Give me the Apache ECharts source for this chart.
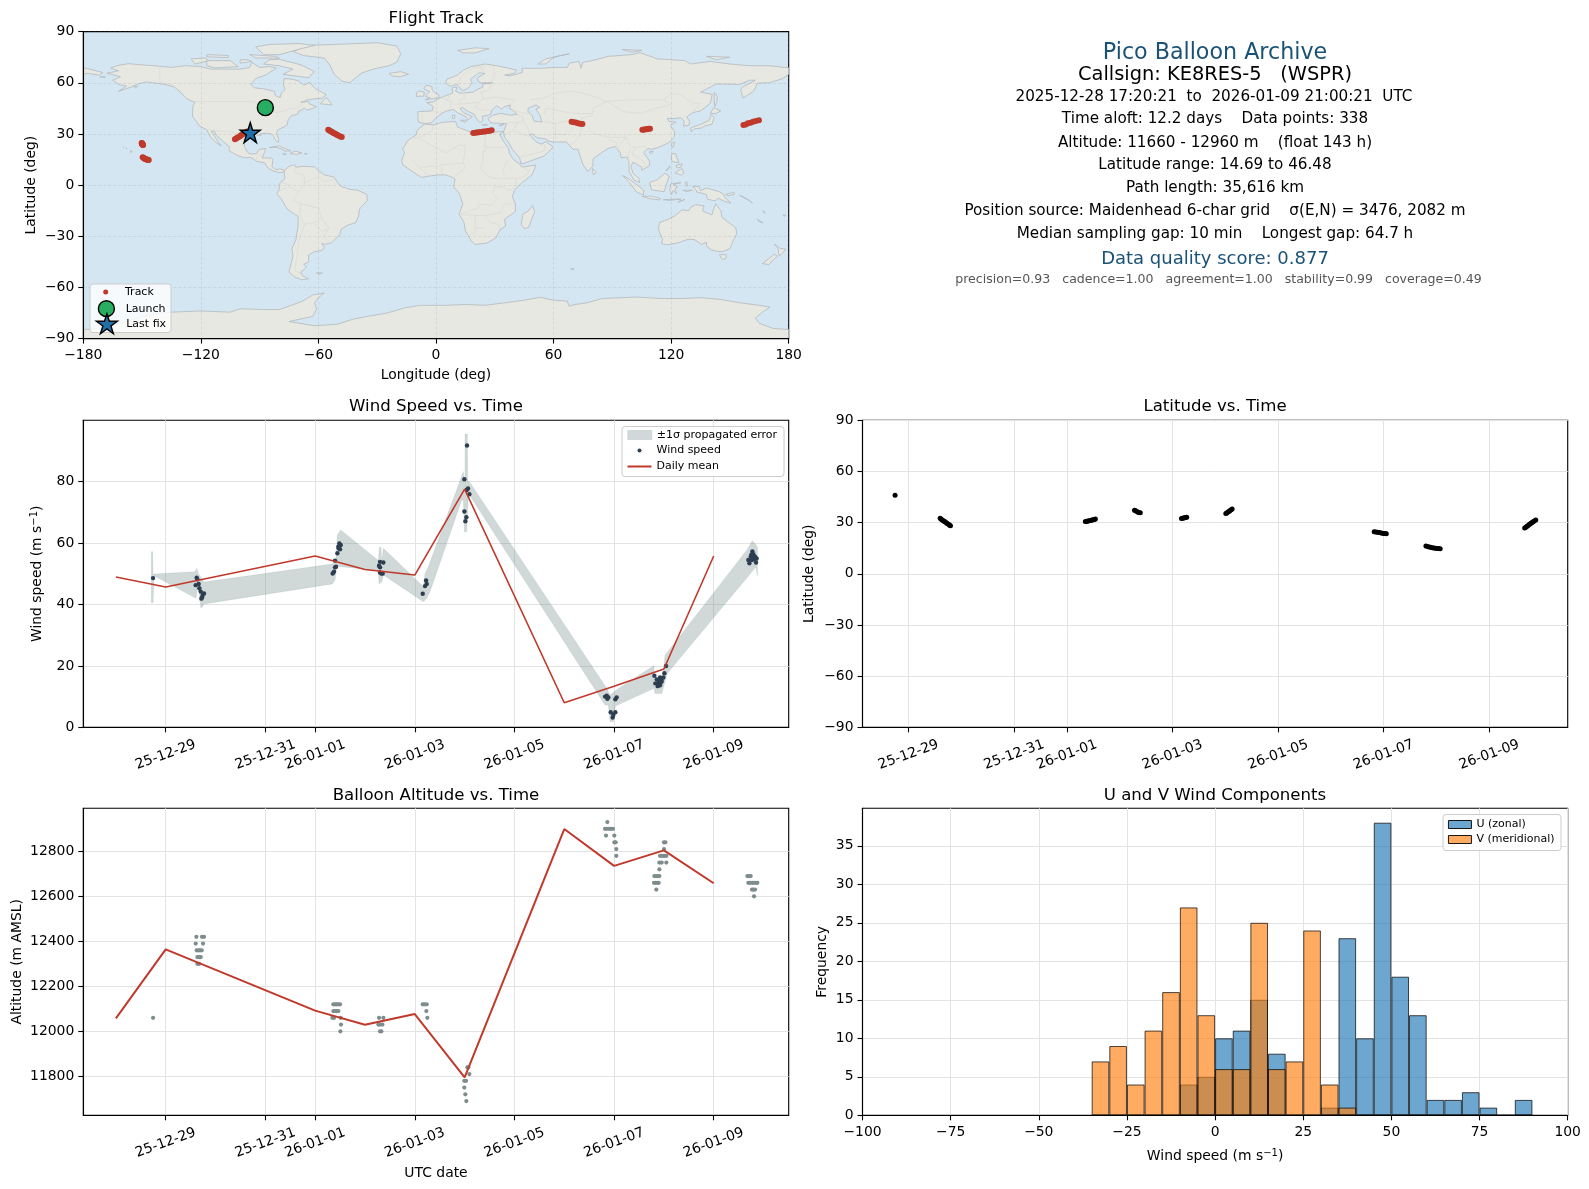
<!DOCTYPE html>
<html><head><meta charset="utf-8">
<style>html,body{margin:0;padding:0;background:#fff}#c{width:1589px;height:1189px}</style>
<script src="https://cdn.jsdelivr.net/npm/echarts@6/dist/echarts.min.js"></script>
</head><body><div id="c"></div>
<script>
// ---------- data ----------
const TIME_TICK_DAYS = [0, 2, 3, 5, 7, 9, 11]; // days since 2025-12-29 00:00 UTC
const TIME_TICK_LABELS = ['25-12-29', '25-12-31', '26-01-01', '26-01-03', '26-01-05', '26-01-07', '26-01-09'];

const TRACK_DAY = [-0.254,
  0.60,0.62,0.64,0.66,0.68,0.70,0.72,0.74,0.76,0.78,0.795,
  3.35,3.37,3.39,3.41,3.44,3.46,3.48,3.50,3.52,3.54,
  4.28,4.30,4.32,4.34,4.36,4.39,
  5.17,5.19,5.21,5.23,5.25,5.27,
  6.01,6.03,6.05,6.07,6.09,6.11,6.13,
  8.82,8.85,8.88,8.91,8.94,8.97,9.00,9.03,9.05,
  9.80,9.83,9.86,9.89,9.92,9.95,9.98,10.01,10.04,10.07,
  11.67,11.69,11.71,11.73,11.75,11.77,11.79,11.81,11.83,11.85,11.88];
const TRACK_LAT = [46.0,
  32.5,32.0,31.6,31.1,30.6,30.3,29.8,29.4,29.0,28.5,28.2,
  30.6,30.7,30.9,31.0,31.2,31.4,31.5,31.7,31.9,32.1,
  37.2,36.9,36.7,36.3,36.0,35.8,
  32.4,32.5,32.7,32.8,33.0,33.1,
  35.3,35.6,36.2,36.6,37.1,37.6,38.0,
  24.7,24.5,24.3,24.2,24.0,23.8,23.7,23.6,23.5,
  16.3,16.0,15.7,15.5,15.3,15.2,15.0,14.9,14.8,14.7,
  26.9,27.3,27.8,28.2,28.7,29.2,29.6,30.1,30.5,31.0,31.5];
const TRACK_LON = [-87.1,
  -55.0,-54.4,-53.7,-53.0,-52.4,-51.7,-51.0,-50.4,-49.6,-48.8,-48.1,
  19.0,20.0,21.1,22.0,23.1,24.2,25.2,26.3,27.4,28.4,
  69.2,70.3,71.4,72.5,73.6,74.7,
  105.3,106.0,106.8,107.6,108.4,109.2,
  156.9,158.1,159.2,160.5,161.8,163.2,164.8,
  -150.2,-150.1,-150.0,-149.9,-149.9,-149.8,-149.7,-149.6,-149.5,
  -149.7,-149.3,-149.0,-148.7,-148.3,-148.0,-147.6,-147.3,-147.0,-146.6,
  -102.6,-102.0,-101.4,-100.7,-100.1,-99.5,-98.9,-98.3,-97.7,-97.1,-96.4];
const LAUNCH_POS = [-87.1, 45.4];
const LAST_FIX_POS = [-94.8, 30.8];

const WIND_DAY = [-0.254,
  0.622,0.636,0.602,0.662,0.676,0.703,0.769,0.743,0.729,0.716,
  3.352,3.379,3.399,3.419,3.399,3.446,3.466,3.486,3.513,3.499,3.472,
  4.302,4.369,4.282,4.302,4.302,4.356,4.329,
  5.159,5.205,5.226,5.239,
  6.048,5.995,6.068,6.042,6.095,5.995,6.035,6.015,
  8.819,8.852,8.885,8.865,9.052,9.025,8.932,9.025,8.985,8.972,
  10.043,10.010,9.809,9.989,9.922,9.855,9.949,9.829,9.882,9.922,9.955,9.875,9.900,9.935,
  11.776,11.796,11.742,11.829,11.695,11.862,11.716,11.849,11.762,11.809,11.782,11.755];
const WIND_SPEED = [48.6,
  48.7,48.2,46.3,46.7,45.3,44.2,43.6,43.1,42.3,41.9,
  50.1,50.7,52.1,52.3,54.3,56.7,58.8,59.9,59.4,58.0,58.3,
  53.9,53.7,52.6,52.1,50.4,50.1,50.1,
  43.5,46.0,47.8,46.7,
  91.8,80.8,77.8,77.3,75.9,70.3,68.4,67.1,
  10.0,10.3,9.75,9.3,9.75,9.1,4.9,4.9,4.0,3.2,
  19.96,17.6,16.8,16.2,16.2,15.6,15.4,14.3,14.3,13.7,14.9,13.4,15.0,14.6,
  57.3,56.4,55.6,55.6,54.5,55.0,53.4,53.7,54.5,54.7,55.2,56.2];
const BAND_UPPER = [[-0.288,57.2],[-0.261,57.2],[-0.254,49.9],[0.589,50.7],[0.622,51.8],[0.656,50.1],[0.769,47.3],[3.345,53.2],[3.419,55.0],[3.446,62.6],[3.513,64.3],[4.269,54.3],[4.289,58.6],[4.322,58.6],[4.336,53.4],[4.369,58.3],[5.172,45.8],[5.205,50.1],[5.272,52.3],[5.975,83.3],[6.008,77.3],[6.008,95.5],[6.055,95.5],[6.062,80.0],[6.095,80.0],[8.852,12.7],[8.919,10.5],[9.039,12.1],[9.802,20.1],[9.802,13.2],[9.956,13.2],[10.023,23.5],[11.662,57.7],[11.776,60.8],[11.876,58.8]];
const BAND_LOWER = [[11.876,49.3],[11.849,52.3],[11.729,49.9],[10.069,17.6],[9.956,11.0],[9.822,11.0],[9.802,12.7],[9.026,6.9],[8.986,1.8],[8.919,1.8],[8.885,7.3],[8.818,7.3],[6.075,76.2],[6.042,63.7],[5.995,63.7],[5.975,74.0],[5.942,74.0],[5.306,44.2],[5.239,42.0],[5.172,40.9],[4.369,49.6],[4.336,47.4],[4.282,46.7],[4.269,51.0],[3.533,52.3],[3.432,52.5],[3.399,48.0],[3.345,46.7],[0.769,40.2],[0.729,39.0],[0.703,39.0],[0.676,43.6],[0.636,45.3],[0.609,42.0],[-0.234,49.4],[-0.254,40.6],[-0.288,40.6]];
const MEAN_DAY = [-1, 0, 3, 4, 5, 6, 8, 9, 10, 11];
const WIND_MEAN = [48.95, 45.7, 55.8, 51.4, 49.6, 77.6, 8.0, 13.4, 19.0, 55.8];
const ALT_MEAN = [12058, 12364, 12092, 12029, 12077, 11795, 12899, 12735, 12804, 12658];

const ALT_DAY = [-0.254,
  0.616,0.729,0.769, 0.602,0.749, 0.622,0.656,0.689,0.723, 0.636,0.676,0.703, 0.636,0.669,
  3.365,3.399,3.432,3.466,3.499, 3.365,3.399,3.432,3.466, 3.345,3.379,3.513, 3.519, 3.506,
  4.282,4.369, 4.269,4.302,4.349, 4.302,4.329,
  5.159,5.192,5.239, 5.232, 5.252,
  6.054,6.075, 6.095, 5.994,6.028, 5.994, 6.014, 6.034,
  8.865, 8.818,8.851,8.898,8.938,8.978, 8.838,9.005, 9.005,9.032, 9.045, 9.045,
  10.002,10.029, 10.002, 9.922,9.955,9.989,10.022,10.049, 9.909,9.955,10.049, 9.909, 9.808,9.842,9.875,9.909, 9.802,9.835,9.868,9.895, 9.848,
  11.675,11.708,11.742, 11.695,11.728,11.775,11.809,11.849,11.876, 11.768,11.795,11.829, 11.809];
const ALT_M = [12060,
  12420,12420,12420, 12390,12390, 12360,12360,12360,12360, 12330,12330,12330, 12300,12300,
  12120,12120,12120,12120,12120, 12090,12090,12090,12090, 12060,12060,12060, 12030, 12000,
  12060,12060, 12030,12030,12030, 12000,12000,
  12120,12120,12120, 12090, 12060,
  11840,11840, 11810, 11780,11780, 11750, 11720, 11690,
  12930, 12900,12900,12900,12900,12900, 12870,12870, 12840,12840, 12810, 12780,
  12840,12840, 12810, 12780,12780,12780,12780,12780, 12750,12750,12750, 12720, 12690,12690,12690,12690, 12660,12660,12660,12660, 12630,
  12690,12690,12690, 12660,12660,12660,12660,12660,12660, 12630,12630,12630, 12600];

const HIST_CENTERS = [-32.5,-27.5,-22.5,-17.5,-12.5,-7.5,-2.5,2.5,7.5,12.5,17.5,22.5,27.5,32.5,37.5,42.5,47.5,52.5,57.5,62.5,67.5,72.5,77.5,82.5,87.5];
const HIST_U = [0,0,0,0,0,4,5,10,11,15,8,0,0,1,23,10,38,18,13,2,2,3,1,0,2];
const HIST_V = [7,9,4,11,16,27,13,6,6,25,6,7,24,4,1,0,0,0,0,0,0,0,0,0,0];

const INFO_LINES = [
  ['Pico Balloon Archive', 56, 22.2, '#1a5276', 1215],
  ['Callsign: KE8RES-5   (WSPR)', 77, 19.4, '#000', 1215],
  ['2025-12-28 17:20:21  to  2026-01-09 21:00:21  UTC', 99, 15.2, '#000', 1214],
  ['Time aloft: 12.2 days    Data points: 338', 121, 15.2, '#000', 1215],
  ['Altitude: 11660 - 12960 m    (float 143 h)', 144.5, 15.2, '#000', 1215],
  ['Latitude range: 14.69 to 46.48', 167, 15.2, '#000', 1215],
  ['Path length: 35,616 km', 190, 15.2, '#000', 1215],
  ['Position source: Maidenhead 6-char grid    σ(E,N) = 3476, 2082 m', 213, 15.2, '#000', 1215],
  ['Median sampling gap: 10 min    Longest gap: 64.7 h', 236, 15.2, '#000', 1215],
  ['Data quality score: 0.877', 261.5, 18, '#1a5276', 1215],
  ['precision=0.93   cadence=1.00   agreement=1.00   stability=0.99   coverage=0.49', 281, 12.55, '#555555', 1218.5]
];

// Land outlines, [longitude, latitude]
const LAND_POLYGONS = [
 // North America
 [[-168,65.6],[-164,66.5],[-162,67],[-166,68.5],[-163,70],[-157,71.2],[-150,70.5],[-141,69.7],[-135,69],[-128,70],[-120,69.5],[-115,68],[-108,68],[-100,68],[-95,69],[-94,72],[-90,69],[-85,69.5],[-81.5,68.5],[-85,66],[-87,64.5],[-92,62.5],[-94.5,59],[-92.5,57],[-88,56.5],[-82.5,55],[-82,52.5],[-79.5,51.3],[-79,54],[-77,56],[-78,59],[-77.5,62.5],[-73,62],[-70,61],[-67.5,58.5],[-64.5,60.2],[-61.5,56.5],[-56,53],[-58,51],[-65,50.2],[-69,48.5],[-65,49],[-64.5,47.5],[-61,46],[-64,44.5],[-66,44],[-67,45],[-70,43.5],[-70.5,41.7],[-74,40.5],[-75.5,38],[-76,35],[-78.5,33.7],[-81,32],[-81.3,30],[-80.2,26.8],[-80.5,25.2],[-81.8,26],[-82.8,28.5],[-84,30],[-86,30.4],[-89.5,30.2],[-89.3,29],[-93,29.7],[-95,29],[-97.3,27.5],[-97.7,25],[-97.8,22.5],[-96,19],[-94.5,18.2],[-91.5,18.5],[-90.5,20.8],[-87,21.5],[-87.8,18.5],[-88.7,16],[-84,15.8],[-83.2,14.9],[-83.7,11],[-82,9],[-79.5,9.5],[-77.3,8.6],[-78,7.5],[-80,7.3],[-83,8.2],[-85.7,10],[-87.5,13],[-91.5,14],[-94.5,16.2],[-98,16],[-101.5,17.5],[-105.5,20],[-105.5,22.5],[-108.5,25.5],[-112,29],[-113,31.3],[-114.7,31.7],[-113,28.5],[-111,25],[-109.5,23],[-112,24.7],[-115,28],[-117,32.5],[-120.5,34.5],[-122.5,37.5],[-124.3,40.5],[-124,46.5],[-123,48.5],[-127,50.5],[-130,54],[-133.5,57.5],[-137.5,58.8],[-144,60],[-148,60.5],[-152,59.3],[-156,57.3],[-162,55],[-158,58],[-162,59],[-165,61.5],[-161,63.5],[-168,65.6]],
 // South America
 [[-77.3,8.6],[-75,11],[-72,12],[-71.5,10.5],[-68,11],[-62,10.7],[-60,8.5],[-57,6],[-52,4.7],[-50,1],[-48,-1],[-44,-2.5],[-40,-3],[-35.3,-5.5],[-35,-9],[-39,-14],[-39.5,-18],[-41,-22],[-45,-23.5],[-48.5,-26],[-49,-29],[-53.5,-34],[-57,-34.8],[-58.3,-34],[-57,-36.5],[-58,-38.2],[-62,-39],[-65,-41],[-65,-45],[-67.5,-46.5],[-66,-48],[-69,-51],[-68.3,-53],[-65.2,-55],[-68.5,-55.5],[-72,-54],[-75,-51],[-74,-46],[-73,-41.5],[-73.5,-37],[-71.5,-32],[-70.5,-25],[-70.3,-18.5],[-76,-14],[-79,-8],[-81.3,-5],[-80,-2.5],[-80,0.5],[-78.5,2.5],[-77,4],[-77.5,7],[-77.3,8.6]],
 // Greenland and the Arctic islands
 [[-73,78.5],[-68,80.5],[-62,82],[-45,82.8],[-30,83.5],[-20,81.5],[-18,77],[-20,72],[-24,70],[-32,68],[-38,65.7],[-42,62],[-44,60],[-48,61],[-52,65],[-54,70],[-57,74.5],[-68,76],[-73,78.5]],
 [[-80,73.7],[-72,71.5],[-68,70],[-62,66.5],[-65,63],[-72,64],[-78,65],[-73,68],[-80,70],[-88,71],[-85,73.5],[-80,73.7]],
 [[-117,73],[-105,73],[-101,69.5],[-113,68.7],[-117,70],[-117,73]],
 [[-92,81],[-85,82.5],[-70,83],[-62,82],[-72,79],[-80,76.5],[-88,76.5],[-92,81]],
 [[-125,74],[-118,74.5],[-116,73],[-123,71],[-125,74]],
 [[-95,76.5],[-82,75.5],[-80,74.5],[-92,74.5],[-95,76.5]],
 [[-117,76.5],[-106,76],[-106,74.8],[-117,75.2],[-117,76.5]],
 [[-100,73.5],[-96,73.5],[-94,72.5],[-100,71.5]],
 [[-59,47.7],[-56,51.5],[-53,47],[-59,47.7]],
 // Caribbean, Pacific
 [[-85,22],[-80,23],[-75,20.5],[-74.2,20],[-77.5,20],[-78,21],[-82,22.2],[-85,22]],
 [[-74.5,18.5],[-72,20],[-68.5,18.8],[-71,18],[-74.5,18.5]],
 [[-78.3,18.4],[-76.3,18.2],[-77,17.8]],
 [[-67.2,18.5],[-65.7,18.4],[-66,18]],
 [[-156,20.2],[-155,19.7],[-155.7,19],[-156,20.2]],
 [[-159.6,22.2],[-159.3,22.2],[-159.4,21.8]],
 [[-158.2,21.6],[-157.7,21.4],[-158.1,21.3]],
 [[-61,-51.5],[-58,-51.5],[-59.5,-52.3]],
 [[-170,63.7],[-168.7,63.3],[-171.5,63.3]],
 [[-154,57.8],[-152.3,58],[-153.5,57]],
 // Eurasia
 [[-9,37],[-9.3,43],[-2,43.5],[-1.3,46],[-4.7,48.4],[-1.5,48.7],[1.5,50.8],[4,52],[8.5,54],[8.2,57],[10.7,57.5],[10,55],[12,54],[14,54],[19,54.5],[21,56],[24,57.5],[23.5,59.2],[29,60],[23,60],[21.3,61],[21.3,63],[25,65.5],[22,65.8],[17.5,62],[18.5,60],[16.5,57],[14,55.5],[12.8,56],[11,59],[7,58],[5,60],[5.5,62],[11,64.5],[14,67.5],[18,69.5],[25,71],[31,70],[41,67.5],[40,65.5],[35,64.5],[38,64],[44,66],[44,68.5],[54,68.5],[60,69],[67,69],[68,71.5],[73,72.5],[74,68.5],[75,72],[80,73],[88,75.5],[100,76.5],[104,77.7],[113,74],[127,73],[130,71],[140,72.5],[150,71],[160,70],[170,70],[178,69],[180,68.8],[180,65],[177,62.5],[170,60],[164,59.8],[163,57],[162,55],[156.7,51],[155.5,56],[156.5,57.5],[163,61.5],[160,61.5],[155,59],[143,59.3],[135,54.5],[141,53.2],[140,48],[135,43.5],[131,42.5],[128,40],[129.5,37],[129,35.2],[126.3,34.5],[126.7,37.5],[125,39.5],[121.5,39],[118,39],[119,37.3],[122.5,37],[119.5,35],[121.8,31.5],[121.5,28],[119,25],[114,22.3],[110,21],[108,21.5],[106,19],[109,14],[109,11.5],[105,8.7],[105,10.5],[102,12.5],[100.5,13.5],[99.5,11],[100.5,7],[103.5,4],[104,1.5],[101,3],[98.5,8],[98.5,13],[97.5,16.5],[94.5,16],[94,19],[91.5,22.5],[89,22],[87,21],[84,18.5],[80.2,15.5],[80,11],[77.5,8],[75,12],[73,19],[72.5,21],[70,21],[68,23.5],[66.5,25.3],[61,25.2],[57,25.8],[56.5,27],[51.5,27.8],[49,30.2],[48,29.5],[50,26.5],[51.5,25],[54,24],[56,25.5],[59.7,22.5],[58,20],[55,17],[52,15.7],[45,12.8],[43.3,12.7],[42.7,16],[39,21],[36.5,26],[35,28],[34.5,31.2],[36,36],[32.5,36.2],[28,36.5],[26.5,39],[29,41],[33,42],[38,41],[41.5,41.5],[39,44],[37.5,45],[38,47],[35,46],[33.5,44.5],[31,46.5],[28.5,44],[28,41.7],[26,40.8],[23.5,40.3],[24,38],[22.5,36.5],[21,38.5],[19.5,41.5],[16,43.5],[13.5,45.5],[12.3,45],[14,42.5],[18.5,40],[16,38],[15.5,40],[11,42.5],[8.8,44.3],[5,43.3],[3,42],[0,39.5],[-2,36.7],[-5.5,36],[-9,37]],
 [[-180,68.8],[-175,67.5],[-170,66],[-172,64.5],[-178,65.5],[-180,65]],
 // Europe islands, Arctic
 [[-5.5,50],[1.5,51.3],[1.5,52.8],[-1,54.5],[-2,56],[-2,57.7],[-5,58.6],[-6.2,56.5],[-3.2,54.8],[-4.8,53],[-5.3,51.8],[-3,51.3],[-5.5,50]],
 [[-10,52],[-6.2,52.2],[-6,54.5],[-8.5,55.2],[-10,54],[-10,52]],
 [[-24,65.5],[-18,66.5],[-14,65],[-18.5,63.5],[-22.5,64],[-24,65.5]],
 [[11,79],[20,80.5],[27,80],[20,77.5],[14,77.5],[11,79]],
 [[52,71],[56,74],[68,77],[60,75],[56,71],[52,71]],
 [[95,79.5],[105,79],[100,78],[95,79.5]],
 [[138,75.5],[150,75],[143,73.5],[138,75.5]],
 [[12.5,38],[15.5,38],[15,36.7]],
 [[8.3,41],[9.7,41],[9.5,39],[8.5,39]],
 [[23.5,35.5],[26.3,35.3],[24,35]],
 [[32.3,35],[34.5,35.6],[33,34.6]],
 // Asia islands
 [[80,9.7],[81.8,7.5],[80.5,6],[79.8,8]],
 [[130.8,33.9],[135,35.6],[139.5,38],[140.5,41.3],[142,39.5],[140.8,35.7],[137,34.6],[135.5,33.5],[132,33],[130.2,31.3],[130,33.5],[130.8,33.9]],
 [[140,42],[141.7,45.4],[145.3,43.5],[143,42],[140,42]],
 [[142,54.3],[143.5,52],[143.3,49],[142.2,46],[142,50],[142,54.3]],
 [[121,25.2],[122,25],[120.8,22],[120.1,23.5]],
 [[108.7,19.3],[110.8,20],[110,18.3]],
 [[120.5,18.5],[122.2,18.4],[124,13],[120.6,13.8],[120,16]],
 [[122,7.2],[125.5,9.7],[126.5,7],[125,5.8]],
 [[122.5,11.5],[125.5,12.5],[125,10.5],[123,10]],
 [[117.2,8.3],[119.5,11.3],[118.5,9.2]],
 [[109,1.5],[113,3.2],[116.8,7],[119,5.2],[117.7,1],[116.5,-3.8],[113,-3.3],[110,-2.8],[109,1.5]],
 [[95.3,5.6],[98,4],[103.8,-1],[106,-3],[105.8,-5.8],[102.3,-4],[98.7,1.5],[95.3,5.6]],
 [[105.3,-6.5],[110.5,-6.6],[114.5,-7.8],[114.3,-8.7],[108,-7.8],[105.3,-6.5]],
 [[119.8,0.7],[125,1.5],[121,0.3],[123.3,-1],[122,-2],[122.8,-5],[121,-3],[120.3,-5.5],[119.3,-3],[119.8,0.7]],
 [[127.5,2],[128.5,1],[128,-0.8],[127.5,0.5]],
 [[126,-3],[130.8,-3],[128,-3.8]],
 [[116,-8.5],[125,-8.2],[119,-9]],
 [[123.5,-10.2],[127,-8.4],[124,-9.5]],
 // New Guinea and Oceania
 [[131,-0.8],[134.2,-0.8],[135,-3.3],[138,-1.7],[144.5,-3.8],[147.5,-6],[147,-6.8],[150.5,-10.5],[147,-9.5],[144,-7.7],[142.5,-9.2],[138.5,-8.3],[138,-5.5],[133,-4],[132.8,-2.8],[131,-0.8]],
 [[148,-5.5],[152,-4.2],[152.2,-5.5],[149,-6.3]],
 [[155,-6],[157,-7.5],[159,-8.3],[161.5,-10.5],[160,-9.2],[157,-7]],
 [[164,-20],[167,-22.2],[165,-21.5]],
 [[167,-15],[168,-16.5],[167.2,-16]],
 [[177.2,-17.5],[178.5,-17.8],[177.6,-18.3]],
 [[114,-22],[113.5,-26],[115.7,-32],[115,-34.3],[118,-35],[123.5,-33.9],[129,-31.7],[132,-32],[135.5,-34.8],[138,-33.5],[138,-35.7],[140.5,-38],[143.5,-38.8],[146.3,-39],[150,-37.3],[151.3,-33.5],[153.5,-28.5],[153,-25],[149.5,-22],[146,-19],[145.3,-15],[142.8,-11],[141.7,-14],[140.8,-17.5],[136,-15.2],[136.8,-12.2],[132.5,-11.5],[130,-13],[129,-15],[125.5,-14.5],[122,-18],[118,-20.3],[114,-22]],
 [[144.7,-40.8],[148.2,-40.8],[148,-43],[146,-43.6],[144.7,-40.8]],
 [[172.7,-34.5],[175.5,-37],[178.5,-37.7],[175.3,-41.6],[174.8,-39.5],[174.7,-37.5]],
 [[172.7,-40.5],[174.2,-41.7],[171,-45],[170,-46.6],[166.5,-46],[170,-43]],
 // Africa
 [[-5.9,35.8],[-1,35.2],[3,36.8],[10,37.3],[11,34],[15,32.3],[19,30.3],[20,32.5],[25,31.8],[29,31],[32,31.3],[34.5,31.2],[32.6,29.8],[34,26.5],[37,21.5],[37.5,18.5],[39.5,15],[43,12],[44,10.5],[51,11.8],[49,6],[44,1.5],[40,-3],[39,-7],[40.5,-11],[40.5,-15.5],[35,-20],[35.5,-24],[32.8,-26],[30.5,-31],[26,-34],[20,-34.8],[18.2,-33],[15,-27],[14.3,-22],[11.8,-17],[13.7,-11],[12,-5],[9,-1],[9.7,3.5],[8.5,4.5],[5,6],[1,6],[-4,5.2],[-7.5,4.5],[-13,8.7],[-17,12],[-17.5,14.7],[-16,19],[-17,21],[-14.5,26],[-10,29.5],[-9.7,32],[-5.9,35.8]],
 [[49.3,-12],[50.4,-15.5],[47.2,-24.8],[45,-25.5],[43.5,-23],[44.3,-17],[47,-15.3],[49.3,-12]],
 [[68.8,-49],[70.5,-49],[70,-49.7]],
 // Antarctica
 [[-180,-90],[-180,-84.7],[-170,-84],[-158,-80],[-148,-76.5],[-135,-74.5],[-120,-73.8],[-105,-74.5],[-100,-72.5],[-88,-73],[-80,-73],[-75,-71],[-68,-68],[-63,-64.5],[-57,-63.3],[-60,-66],[-62,-69],[-61,-73],[-63,-77],[-75,-80],[-62,-82.5],[-50,-81.5],[-42,-78.5],[-35,-77],[-25,-75],[-16,-72],[-8,-70.5],[5,-70.5],[15,-70],[25,-70.5],[35,-69],[45,-67.5],[53,-65.8],[60,-67.5],[67,-68],[68,-71],[71,-70],[77,-69],[85,-66.5],[95,-66],[102,-65.6],[115,-66.5],[125,-66.5],[135,-66],[145,-67],[155,-69],[165,-70.5],[170.5,-71.5],[166,-75],[163,-78],[165,-81],[172,-84],[180,-84.7],[180,-90]]
];
const WATER_POLYGONS = [
 [[47,45],[51,47],[53,45.5],[51,44.5],[53,41],[54,37],[50,37.5],[49,41],[47,43],[47,45]]
];
const BORDER_LINES = [
 [[-123,49],[-95,49],[-89,48],[-83,46],[-82.5,42.5],[-79,43],[-75,45],[-71,45],[-69,47.3],[-67,45]],
 [[-141,69.7],[-141,60.3],[-135,59],[-130,55]],
 [[-117,32.5],[-108,31.5],[-106,31.8],[-101,29.7],[-97.3,26]],
 [[-92,14.5],[-91,17.5],[-89,17.8],[-88.5,18]],
 [[-72,12],[-72,7],[-67.5,6],[-67,1.5],[-70,-4],[-73,-9],[-69,-11],[-69.5,-16],[-69.5,-18],[-67,-23],[-70,-33],[-72,-50],[-69,-52]],
 [[-69,-11],[-60,-13.5],[-58,-20],[-54.5,-25.5],[-57.5,-30],[-53.5,-34]],
 [[-67,-23],[-62.5,-22],[-58,-20]],[[-62.5,-22],[-58,-27],[-54.5,-25.5]],
 [[-80,-3.3],[-75,-1],[-70,-4]],[[-78.5,1.5],[-75,0]],
 [[-60,8.5],[-60,5],[-57,2],[-54,2.5],[-52,4.7]],[[-67,1.5],[-62,4],[-60,5]],
 [[-1.5,35],[-2,32],[-8.7,28],[-13,27.7]],
 [[-8.7,27.3],[-5,25],[5,19],[12,23.5],[15,23]],
 [[25,31.5],[25,20],[24,20],[24,13],[22.5,10],[27,5],[31,3.5],[34,4],[41,4],[41,-1.6],[37.5,-3],[34,-1],[30,-1],[29,-4.5],[31,-8.5],[28,-12],[22,-11],[22,-13],[12,-17.3]],
 [[15,23],[14,13],[15,10],[9,4.5]],[[25,22],[37,22]],[[36.5,14.5],[34,9],[35,5]],[[43,11],[48,8],[45,5],[41,4]],
 [[-12,14.5],[-8,10],[-4,5.5]],[[-8,10],[-3,11],[1,11],[3,12],[3,7]],[[3,12],[14,13]],
 [[12,-17.3],[25,-18],[33,-16],[35,-11],[40,-11]],[[20,-18],[20,-28],[17,-29]],[[25,-18],[28,-22],[32,-23],[32.8,-26]],[[25,-25],[20,-25]],
 [[-1.8,43.4],[3,42.5]],[[-7,42],[-7,37.2]],[[3,51],[8,49],[7.5,47.5],[7,44]],[[7,53.5],[6,50.5]],
 [[14,54],[15,51],[12,50],[13,47.5],[9.5,47.5]],[[23,54.3],[24,50.5],[22,48.5],[17,48],[13,47.5]],
 [[22,48.5],[20,46],[22.5,44],[28.5,44]],[[24,50.5],[30,51.5],[40,50],[38,47]],[[28,60],[30,65],[29,70]],[[23,54.3],[28,56],[28,60]],
 [[11,59],[12,62],[15,66],[20,69],[25,69.5]],[[24,66],[24,68],[20,69]],
 [[48,50],[55,51],[61,54],[70,55],[77,53.5],[87,49]],
 [[87,49],[98,50],[108,50],[116,50],[120,53.5],[125,53],[131,48],[135,48],[131,43]],
 [[87,49],[96,43],[105,42],[112,45],[120,47],[116,50]],
 [[87,49],[80,45],[80,41],[74,39],[78,33],[81,30],[88,28],[97,28],[99,23],[102,22],[106,23],[108,21.5]],
 [[74,34],[74,30],[70,24.5],[68,23.7]],[[88,27],[92,25],[92,21]],[[97,28],[94,24],[92.5,21]],[[99,21],[98,17],[99,11]],
 [[102,22],[100,18],[105,15],[107,12],[105,10.5]],
 [[44.5,39.5],[46,35],[48,30]],[[61,25.2],[61,30],[61,36],[54,37.5]],[[61,30],[66,29.5],[70,33],[74,37],[66,37.5],[61,36]],
 [[55,41.5],[56,45],[61,44],[70,42],[80,42]],[[36,36.5],[44.5,37],[44.5,39.5],[41.5,41.5]],
 [[35,29.5],[39,32],[46.5,29],[48,29]],[[43,16.5],[52,19],[55,20],[56,24]],[[39,32],[42,37]],[[40,43.5],[48,41.7]]
];

// ---------- layout & style ----------
const FONT = '"DejaVu Sans"';
const GRIDS = [
  {left:83.3, top:31.6, width:705.4, height:307},
  {left:83.3, top:420.3, width:705.4, height:307},
  {left:862.5, top:420.3, width:705.2, height:307},
  {left:83.3, top:808.3, width:705.4, height:307},
  {left:862.5, top:808.3, width:705.2, height:307}
];
const minus = v => String(v).replace('-', '\u2212');
const RED = '#c0392b', NAVY = '#2c3e50', GREYDOT = '#7f8c8d';
const OCEAN = '#d4e6f1', LANDFILL = '#e8e8e3', COAST = '#b4b9bc', BORDERC = '#dadbd7';
const STAR = 'path://M50,0 L61.2,34.5 L97.6,34.5 L68.2,55.9 L79.4,90.5 L50,69.1 L20.6,90.5 L31.8,55.9 L2.4,34.5 L38.8,34.5 Z';
const SUP = {fontFamily:FONT, fontSize:10, color:'#000', padding:[0,0,6,0]};
const BASE = {fontFamily:FONT, fontSize:13.9, color:'#000'};

function gridOpt(g, bg){ return Object.assign({show:true, borderColor:'#000', borderWidth:1.1, backgroundColor:bg||'#fff', containLabel:false}, g); }
function axisBase(extra){
  return Object.assign({
    type:'value', scale:false,
    axisLine:{show:true, onZero:false, lineStyle:{color:'#000', width:1.1}},
    axisTick:{show:true, length:5, lineStyle:{color:'#000', width:1.1}},
    splitLine:{show:true, lineStyle:{color:'#e3e3e3', width:1}},
    nameLocation:'middle',
    nameTextStyle:{fontFamily:FONT, fontSize:13.9, color:'#000', rich:{b:BASE, sup:SUP}},
  }, extra);
}
function labelOpt(extra){ return Object.assign({fontFamily:FONT, fontSize:13.9, color:'#000', margin:9, formatter:minus, hideOverlap:false, showMinLabel:true, showMaxLabel:true}, extra); }
const yLabel = extra => labelOpt(Object.assign({padding:[3,0,0,0]}, extra));
function timeX(idx, min, max, name){
  const o = axisBase({gridIndex:idx, min, max, name:name||'', nameGap:51});
  o.axisTick.customValues = TIME_TICK_DAYS;
  o.axisLabel = labelOpt({customValues:TIME_TICK_DAYS, rotate:20, align:'center', verticalAlign:'middle', margin:27.5,
    formatter:v => TIME_TICK_LABELS[TIME_TICK_DAYS.indexOf(v)] || ''});
  return o;
}
function customY(idx, min, max, vals, name, gap){
  const o = axisBase({gridIndex:idx, min, max, name, nameGap:gap, nameRotate:90});
  o.axisTick.customValues = vals;
  o.axisLabel = yLabel({customValues:vals});
  return o;
}
const mapSplit = {show:true, lineStyle:{color:'rgba(110,110,110,0.17)', width:0.8, type:[3,2]}};
const WIND_NAME = '{b|Wind speed (m s}{sup|\u22121}{b|)}';

const xAxis = [
  axisBase({gridIndex:0, min:-180, max:180, interval:60, name:'Longitude (deg)', nameGap:30, z:3, splitLine:mapSplit, axisLabel:labelOpt({margin:10})}),
  timeX(1, -1.654, 12.505),
  timeX(2, -0.871, 12.485),
  timeX(3, -1.654, 12.505, 'UTC date'),
  axisBase({gridIndex:4, min:-100, max:100, interval:25, name:WIND_NAME, nameGap:33, axisLabel:labelOpt({margin:10})})
];
const yAxis = [
  axisBase({gridIndex:0, min:-90, max:90, interval:30, name:'Latitude (deg)', nameGap:45, nameRotate:90, z:3, splitLine:mapSplit, axisLabel:yLabel()}),
  customY(1, 0, 100, [0,20,40,60,80], WIND_NAME, 38),
  axisBase({gridIndex:2, min:-90, max:90, interval:30, name:'Latitude (deg)', nameGap:46, nameRotate:90, axisLabel:yLabel()}),
  customY(3, 11627, 12991, [11800,12000,12200,12400,12600,12800], 'Altitude (m AMSL)', 59),
  customY(4, 0, 39.87, [0,5,10,15,20,25,30,35], 'Frequency', 33)
];

function polyRender(list, style){
  return (params, api) => ({type:'polygon', shape:{points:list[params.dataIndex].map(p => api.coord(p))}, style});
}
function zip(a, b){ return a.map((v,i) => [v, b[i]]); }
const idxData = list => list.map((_, i) => [i]);

const series = [
  {name:'land', type:'custom', coordinateSystem:'cartesian2d', xAxisIndex:0, yAxisIndex:0, z:1, silent:true, clip:true,
    renderItem:polyRender(LAND_POLYGONS, {fill:LANDFILL, stroke:COAST, lineWidth:0.8}), data:idxData(LAND_POLYGONS)},
  {name:'water', type:'custom', coordinateSystem:'cartesian2d', xAxisIndex:0, yAxisIndex:0, z:1, silent:true,
    renderItem:polyRender(WATER_POLYGONS, {fill:OCEAN, stroke:COAST, lineWidth:0.8}), data:idxData(WATER_POLYGONS)},
  {name:'borders', type:'custom', coordinateSystem:'cartesian2d', xAxisIndex:0, yAxisIndex:0, z:1, silent:true,
    renderItem:(params, api) => ({type:'polyline', shape:{points:BORDER_LINES[params.dataIndex].map(p => api.coord(p))}, style:{fill:'none', stroke:BORDERC, lineWidth:0.8}}),
    data:idxData(BORDER_LINES)},
  {name:'Track', type:'scatter', xAxisIndex:0, yAxisIndex:0, z:5, symbolSize:6, itemStyle:{color:RED, opacity:1}, data:zip(TRACK_LON, TRACK_LAT).slice(1)},
  {name:'Launch', type:'scatter', xAxisIndex:0, yAxisIndex:0, z:6, symbolSize:16, itemStyle:{color:'#27ae60', borderColor:'#000', borderWidth:1.4, opacity:1}, data:[LAUNCH_POS]},
  {name:'Last fix', type:'scatter', xAxisIndex:0, yAxisIndex:0, z:7, symbol:STAR, symbolSize:20, itemStyle:{color:'#1f6fa8', borderColor:'#000', borderWidth:1.4, opacity:1}, data:[LAST_FIX_POS]},

  {name:'\u00B11\u03C3 propagated error', type:'custom', coordinateSystem:'cartesian2d', xAxisIndex:1, yAxisIndex:1, z:2, silent:true,
    itemStyle:{color:'#d0d8d9'},
    renderItem:(params, api) => ({type:'polygon', shape:{points:BAND_UPPER.concat(BAND_LOWER).map(p => api.coord(p))}, style:{fill:'rgba(110,135,135,0.32)', stroke:'rgba(110,135,135,0.12)', lineWidth:1}}),
    data:[[0]]},
  {name:'Wind speed', type:'scatter', xAxisIndex:1, yAxisIndex:1, z:3, symbolSize:4.4, itemStyle:{color:NAVY, opacity:1}, data:zip(WIND_DAY, WIND_SPEED)},
  {name:'Daily mean', type:'line', xAxisIndex:1, yAxisIndex:1, z:4, showSymbol:false, symbol:'none', lineStyle:{color:RED, width:1.6}, itemStyle:{color:RED}, data:zip(MEAN_DAY, WIND_MEAN)},

  {name:'Latitude', type:'scatter', xAxisIndex:2, yAxisIndex:2, z:3, symbolSize:5, itemStyle:{color:'#000', opacity:1}, data:zip(TRACK_DAY, TRACK_LAT)},

  {name:'Altitude', type:'scatter', xAxisIndex:3, yAxisIndex:3, z:3, symbolSize:4.2, itemStyle:{color:GREYDOT, opacity:1}, data:zip(ALT_DAY, ALT_M)},
  {name:'Altitude mean', type:'line', xAxisIndex:3, yAxisIndex:3, z:4, showSymbol:false, symbol:'none', lineStyle:{color:RED, width:2}, data:zip(MEAN_DAY, ALT_MEAN)},

  {name:'U (zonal)', type:'bar', xAxisIndex:4, yAxisIndex:4, barWidth:17.63, barGap:'-100%', z:3, itemStyle:{color:'rgba(31,119,180,0.65)', borderColor:'rgba(0,0,0,0.7)', borderWidth:1}, data:zip(HIST_CENTERS, HIST_U)},
  {name:'V (meridional)', type:'bar', xAxisIndex:4, yAxisIndex:4, barWidth:17.63, barGap:'-100%', z:4, itemStyle:{color:'rgba(255,127,14,0.65)', borderColor:'rgba(0,0,0,0.7)', borderWidth:1}, data:zip(HIST_CENTERS, HIST_V)}
];

function legendItem(name, left, cy, w, h, icon, itemStyle){
  const H = Math.max(h, 13);
  const o = {show:true, selectedMode:false, orient:'vertical', left, top:cy - H/2, padding:0, z:60,
    itemWidth:w, itemHeight:h, data:[icon ? {name, icon} : {name}],
    textStyle:{fontFamily:FONT, fontSize:11, color:'#000', height:13, lineHeight:13}};
  if (itemStyle) o.itemStyle = itemStyle;
  return o;
}
// The legend is placed by the icon's own left edge, so a small icon inside a wide box starts later.
const legend = [
  legendItem('Track', 103.2, 292, 28.6, 5, 'circle', {color:RED}),
  legendItem('Launch', 97.7, 308, 28.6, 16, 'circle', {color:'#27ae60', borderColor:'#000', borderWidth:1.4}),
  legendItem('Last fix', 95.7, 323, 28.6, 20, STAR, {color:'#1f6fa8', borderColor:'#000', borderWidth:1.4}),
  legendItem('\u00B11\u03C3 propagated error', 627.5, 435, 24, 9, 'rect', {color:'#d0d8d9', borderColor:'#c4cccf', borderWidth:0.6}),
  legendItem('Wind speed', 637.5, 450.5, 24, 4, 'circle', {color:NAVY}),
  legendItem('Daily mean', 627.5, 466.5, 24, 2, 'rect', {color:RED}),
  legendItem('U (zonal)', 1448, 824.5, 23, 8, 'rect', {color:'rgba(31,119,180,0.65)', borderColor:'#000', borderWidth:0.9}),
  legendItem('V (meridional)', 1448, 839.5, 23, 8, 'rect', {color:'rgba(255,127,14,0.65)', borderColor:'#000', borderWidth:0.9})
];

const box = (x,y,w,h) => ({type:'rect', silent:true, z:50, shape:{x,y,width:w,height:h,r:3}, style:{fill:'rgba(255,255,255,0.8)', stroke:'#cccccc', lineWidth:1}});
const graphic = [box(90,284,81,48.5), box(622,426.5,162,50), box(1443,814.5,118,36)];

const PANEL_TITLES = [['Flight Track',436],['Wind Speed vs. Time',436],['Latitude vs. Time',1215],['Balloon Altitude vs. Time',436],['U and V Wind Components',1215]];
const PANEL_TITLE_TOPS = [10,398,398,787,787];
const title = PANEL_TITLES.map((t,i) => ({text:t[0], left:t[1], top:PANEL_TITLE_TOPS[i], textAlign:'center', padding:0, textStyle:{fontFamily:FONT, fontSize:16.6, fontWeight:'normal', color:'#000'}}))
  .concat(INFO_LINES.map(l => ({text:l[0], left:l[4], top:l[1]-l[2]*0.6, textAlign:'center', padding:0, textStyle:{fontFamily:FONT, fontSize:l[2], fontWeight:'normal', color:l[3]}})));

const chart = echarts.init(document.getElementById('c'), null, {width:1589, height:1189});
chart.setOption({
  animation:false, backgroundColor:'#fff', textStyle:{fontFamily:FONT},
  grid:GRIDS.map((g,i) => gridOpt(g, i===0 ? OCEAN : '#fff')),
  xAxis, yAxis, series, legend, title, graphic
});
</script></body></html>
